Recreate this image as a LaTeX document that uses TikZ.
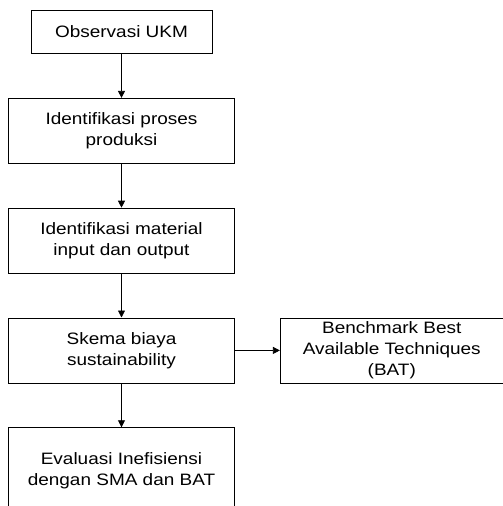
\documentclass[tikz,border=0pt]{standalone}
\usepackage{fontspec}
\setmainfont[FakeStretch=1.15]{Liberation Sans}
\usepackage{tikz}
\usetikzlibrary{shapes, arrows.meta, positioning, calc}

\begin{document}
\begin{tikzpicture}[
    node distance=44pt,
    step box/.style={rectangle, draw=black, line width=0.8pt, fill=white, minimum width=226pt, minimum height=65pt, align=center, font=\fontsize{16.5}{21}\selectfont},
    first box/.style={step box, minimum width=181pt, minimum height=43pt},
    arrow/.style={-{Triangle[length=7pt,width=7pt]}, line width=0.8pt, color=black}
]
\useasboundingbox (0,0) rectangle (503pt,-506pt);

% Alur utama
\node[first box] (obs) at (121.5pt,-32pt) {Observasi UKM};
\node[step box, below=of obs] (proses) {Identifikasi proses\\produksi};
\node[step box, below=of proses] (material) {Identifikasi material\\input dan output};
\node[step box, below=of material] (skema) {Skema biaya\\sustainability};
\node[step box, below=of skema, minimum height=86pt] (evaluasi) {Evaluasi Inefisiensi\\dengan SMA dan BAT};

% Benchmark
\node[step box, right=45pt of skema, minimum width=223pt, inner sep=0pt] (bat) {Benchmark Best\\Available Techniques\\(BAT)};

% Panah
\draw[arrow] (obs) -- (proses);
\draw[arrow] (proses) -- (material);
\draw[arrow] (material) -- (skema);
\draw[arrow] (skema) -- (evaluasi);
\draw[arrow] (skema) -- (bat);

\end{tikzpicture}
\end{document}
